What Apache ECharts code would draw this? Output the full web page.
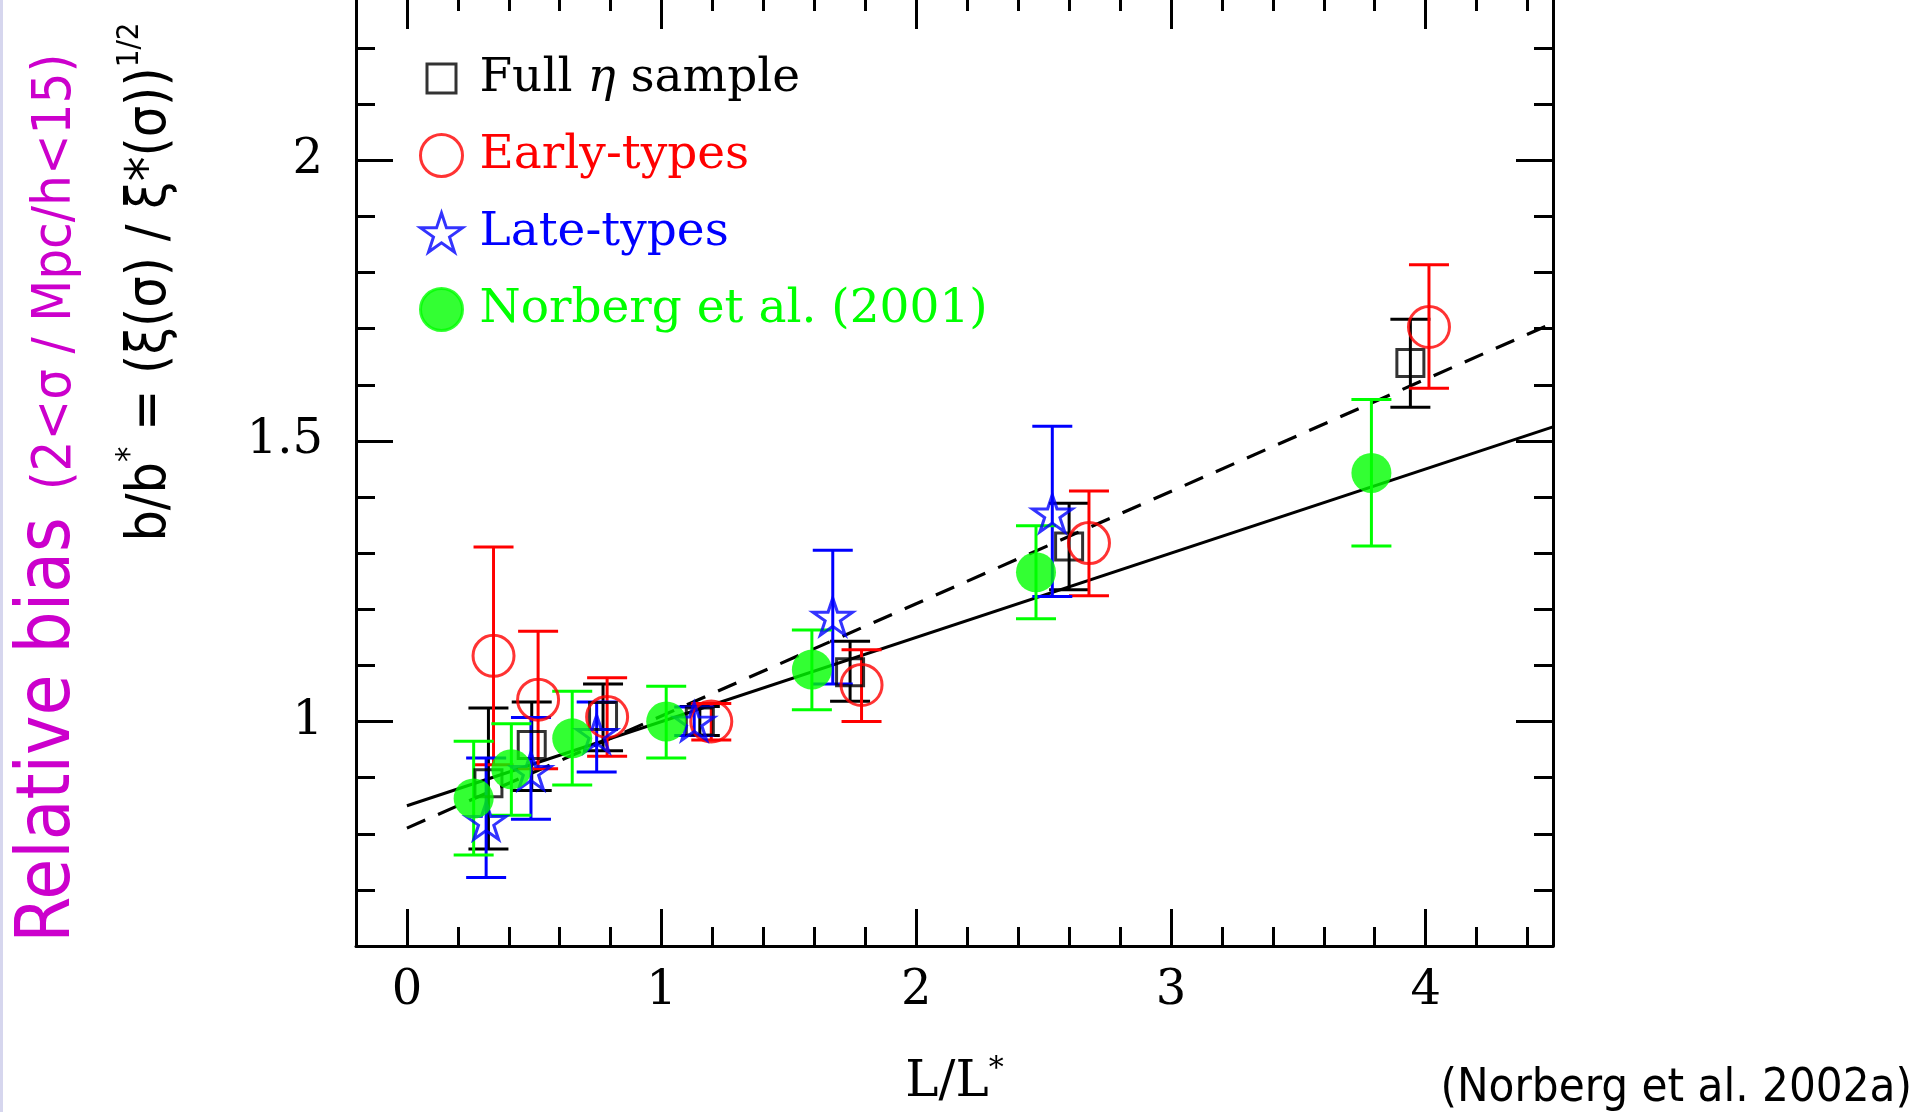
<!DOCTYPE html>
<html>
<head>
<meta charset="utf-8">
<script src="https://cdn.jsdelivr.net/npm/echarts@6/dist/echarts.min.js"></script>
<style>
html,body{margin:0;padding:0;background:#ffffff;}
#chart{width:1931px;height:1112px;}
</style>
</head>
<body>
<div id="chart"></div>
<script>
// ---------------- data ----------------
const xRange = [-0.2, 4.5];
const yRange = [0.6, 2.3];
const xMajorTicks = [0, 1, 2, 3, 4];
const xMinorTicks = [0.2, 0.4, 0.6, 0.8, 1.2, 1.4, 1.6, 1.8, 2.2, 2.4, 2.6, 2.8, 3.2, 3.4, 3.6, 3.8, 4.2, 4.4];
const yMajorTicks = [1, 1.5, 2];
const yMinorTicks = [0.7, 0.8, 0.9, 1.1, 1.2, 1.3, 1.4, 1.6, 1.7, 1.8, 1.9, 2.1, 2.2];

const seriesNames = ['Full η sample', 'Early-types', 'Late-types', 'Norberg et al. (2001)'];

// Full eta sample (black squares)
const fullX  = [0.32, 0.49, 0.77, 1.15, 1.74, 2.60, 3.94];
const fullY  = [0.89, 0.958, 1.01, 1.00, 1.088, 1.312, 1.639];
const fullLo = [0.773, 0.877, 0.948, 0.975, 1.036, 1.235, 1.560];
const fullHi = [1.024, 1.035, 1.067, 1.027, 1.143, 1.389, 1.717];

// Early-types (red open circles)
const earlyX  = [0.34, 0.515, 0.786, 1.195, 1.785, 2.678, 4.013];
const earlyY  = [1.117, 1.039, 1.008, 1.00, 1.065, 1.318, 1.703];
const earlyLo = [0.923, 0.916, 0.938, 0.967, 1.000, 1.224, 1.594];
const earlyHi = [1.311, 1.161, 1.078, 1.032, 1.128, 1.411, 1.814];

// Late-types (blue open stars)
const lateX  = [0.311, 0.487, 0.745, 1.128, 1.672, 2.534];
const lateY  = [0.823, 0.912, 0.978, 1.00, 1.187, 1.371];
const lateLo = [0.722, 0.826, 0.910, 0.975, 1.067, 1.223];
const lateHi = [0.935, 1.007, 1.035, 1.026, 1.305, 1.526];

// Norberg et al. (2001) (green filled circles)
const norbX  = [0.262, 0.41, 0.649, 1.018, 1.59, 2.47, 3.787];
const norbY  = [0.863, 0.915, 0.970, 1.00, 1.0925, 1.266, 1.443];
const norbLo = [0.762, 0.833, 0.887, 0.935, 1.021, 1.183, 1.313];
const norbHi = [0.965, 0.996, 1.054, 1.063, 1.163, 1.349, 1.574];

// fitted lines (end points)
const fitX = [0, 4.5];
const solidFitY = [0.85, 1.525];
const dashedFitY = [0.81, 1.71];

// ---------------- styling ----------------
const HERSHEY = "'DejaVu Serif', serif";
const SLIDE = "'DejaVu Sans Condensed', 'DejaVu Sans', sans-serif";
const BLACK = '#000000', RED = '#ff0000', BLUE = '#0000ff', GREEN = '#00ff00', MAGENTA = '#cc00cc';
const STAR = 'path://M50,0 L61.8,35.5 L100,35.5 L69.1,57.4 L80.9,93.1 L50,71 L19.1,93.1 L30.9,57.4 L0,35.5 L38.2,35.5 Z';
const LW = 3;

function pairs(xs, ys) { return xs.map((x, i) => [x, ys[i]]); }
function triples(xs, lo, hi) { return xs.map((x, i) => [x, lo[i], hi[i]]); }

function errSeries(name, xs, lo, hi, color) {
  return {
    type: 'custom', name: name, silent: true, animation: false,
    xAxisIndex: 0, yAxisIndex: 0,
    data: triples(xs, lo, hi),
    encode: { x: 0, y: [1, 2] },
    renderItem: function (params, api) {
      const x = api.value(0);
      const pLo = api.coord([x, api.value(1)]);
      const pHi = api.coord([x, api.value(2)]);
      const hw = 20;
      const st = { stroke: color, lineWidth: LW };
      return {
        type: 'group',
        children: [
          { type: 'line', shape: { x1: pLo[0], y1: pLo[1], x2: pHi[0], y2: pHi[1] }, style: st },
          { type: 'line', shape: { x1: pLo[0] - hw, y1: pLo[1], x2: pLo[0] + hw, y2: pLo[1] }, style: st },
          { type: 'line', shape: { x1: pHi[0] - hw, y1: pHi[1], x2: pHi[0] + hw, y2: pHi[1] }, style: st }
        ]
      };
    }
  };
}

function axisBase(position, range, ticks, len) {
  return {
    type: 'value', gridIndex: 0, position: position,
    min: range[0], max: range[1],
    axisLine: { show: false, onZero: false },
    axisTick: { show: true, inside: true, length: len, customValues: ticks, lineStyle: { color: BLACK, width: 3 } },
    axisLabel: { show: false },
    splitLine: { show: false },
    minorTick: { show: false },
    silent: true
  };
}
const frameLine = { show: true, onZero: false, lineStyle: { color: BLACK, width: 3 } };

const xAxes = [
  Object.assign(axisBase('bottom', xRange, xMinorTicks, 19), {
    axisLine: frameLine,
    axisLabel: { show: true, customValues: xMajorTicks, margin: 22, color: BLACK, fontFamily: HERSHEY, fontSize: 48 },
    name: 'L/L{s|*}', nameLocation: 'middle', nameGap: 108,
    nameTextStyle: { color: BLACK, fontFamily: HERSHEY, fontSize: 50, lineHeight: 58,
      rich: { s: { fontFamily: HERSHEY, fontSize: 30, lineHeight: 30, verticalAlign: 'top', color: BLACK } } }
  }),
  axisBase('bottom', xRange, xMajorTicks, 37),
  Object.assign(axisBase('top', xRange, xMinorTicks, 19), { axisLine: frameLine }),
  axisBase('top', xRange, xMajorTicks, 37)
];
const yAxes = [
  Object.assign(axisBase('left', yRange, yMinorTicks, 19), {
    axisLine: frameLine,
    axisLabel: { show: true, customValues: yMajorTicks, margin: 33, color: BLACK, fontFamily: HERSHEY, fontSize: 48 }
  }),
  axisBase('left', yRange, yMajorTicks, 37),
  Object.assign(axisBase('right', yRange, yMinorTicks, 19), { axisLine: frameLine }),
  axisBase('right', yRange, yMajorTicks, 37)
];

const option = {
  animation: false,
  backgroundColor: '#ffffff',
  grid: { left: 356, right: 378, top: -8, bottom: 166, containLabel: false, outerBoundsMode: 'none' },
  xAxis: xAxes,
  yAxis: yAxes,
  legend: {
    orient: 'vertical', left: 419, top: 55, padding: 0,
    itemWidth: 42, itemHeight: 42, itemGap: 30,
    selectedMode: false,
    itemStyle: { borderWidth: LW },
    textStyle: { fontFamily: HERSHEY, fontSize: 47, padding: [0, 0, 0, 12],
      rich: { i: { fontFamily: HERSHEY, fontSize: 47, fontStyle: 'italic' } } },
    formatter: function (name) { return name === seriesNames[0] ? 'Full {i|η} sample' : name; },
    data: [
      { name: seriesNames[0], icon: 'path://M0,0 M42,42 M6.5,6.5 L35.5,6.5 L35.5,35.5 L6.5,35.5 Z', textStyle: { color: BLACK } },
      { name: seriesNames[1], textStyle: { color: RED } },
      { name: seriesNames[2], textStyle: { color: BLUE } },
      { name: seriesNames[3], textStyle: { color: GREEN } }
    ]
  },
  series: [
    { type: 'line', name: 'fit-solid', data: pairs(fitX, solidFitY), showSymbol: false, symbol: 'none',
      lineStyle: { color: BLACK, width: 3 }, silent: true, z: 1 },
    { type: 'line', name: 'fit-dashed', data: pairs(fitX, dashedFitY), showSymbol: false, symbol: 'none',
      lineStyle: { color: BLACK, width: 3.2, type: [20, 14] }, silent: true, z: 1 },

    errSeries('full-err', fullX, fullLo, fullHi, BLACK),
    { type: 'scatter', name: seriesNames[0], data: pairs(fullX, fullY), symbol: 'rect', symbolSize: 27,
      itemStyle: { color: 'rgba(0,0,0,0)', borderColor: BLACK, borderWidth: LW }, emphasis: { disabled: true }, silent: true },

    errSeries('early-err', earlyX, earlyLo, earlyHi, RED),
    { type: 'scatter', name: seriesNames[1], data: pairs(earlyX, earlyY), symbol: 'circle', symbolSize: 41,
      itemStyle: { color: 'rgba(0,0,0,0)', borderColor: RED, borderWidth: LW }, emphasis: { disabled: true }, silent: true },

    errSeries('late-err', lateX, lateLo, lateHi, BLUE),
    { type: 'scatter', name: seriesNames[2], data: pairs(lateX, lateY), symbol: STAR, symbolSize: [40, 37],
      itemStyle: { color: 'rgba(0,0,0,0)', borderColor: BLUE, borderWidth: LW }, emphasis: { disabled: true }, silent: true },

    errSeries('norberg-err', norbX, norbLo, norbHi, GREEN),
    { type: 'scatter', name: seriesNames[3], data: pairs(norbX, norbY), symbol: 'circle', symbolSize: 40,
      itemStyle: { color: GREEN, borderColor: GREEN, borderWidth: 0 }, emphasis: { disabled: true }, silent: true }
  ],
  graphic: [
    { type: 'rect', x: 0, y: 0, shape: { x: 0, y: 0, width: 3, height: 1112 }, style: { fill: '#d6d6ee' }, silent: true },
    { type: 'text', x: 50, y: 730, rotation: Math.PI / 2, silent: true,
      style: { text: 'Relative bias', fill: MAGENTA, fontFamily: SLIDE, fontSize: 74,
        align: 'center', verticalAlign: 'middle', textAlign: 'center', textVerticalAlign: 'middle' } },
    { type: 'text', x: 56, y: 272, rotation: Math.PI / 2, silent: true,
      style: { text: '(2<σ / Mpc/h<15)', fill: MAGENTA, fontFamily: SLIDE, fontSize: 54,
        align: 'center', verticalAlign: 'middle', textAlign: 'center', textVerticalAlign: 'middle' } },
    { type: 'text', x: 146, y: 282, rotation: Math.PI / 2, silent: true,
      style: { text: '{m|b/b}{s|*}{m| = (ξ(σ) / ξ*(σ))}{t|1/2}', fill: BLACK,
        align: 'center', verticalAlign: 'middle', textAlign: 'center', textVerticalAlign: 'middle',
        rich: {
          m: { fontFamily: SLIDE, fontSize: 55, lineHeight: 64, verticalAlign: 'bottom', fill: BLACK },
          s: { fontFamily: SLIDE, fontSize: 34, lineHeight: 34, verticalAlign: 'top', fill: BLACK },
          t: { fontFamily: SLIDE, fontSize: 31, lineHeight: 31, verticalAlign: 'top', fill: BLACK }
        } } },
    { type: 'text', x: 1912, y: 1089, silent: true,
      style: { text: '(Norberg et al. 2002a)', fill: BLACK, fontFamily: SLIDE, fontSize: 47,
        align: 'right', verticalAlign: 'middle', textAlign: 'right', textVerticalAlign: 'middle' } }
  ]
};

const chart = echarts.init(document.getElementById('chart'), null, { renderer: 'canvas', width: 1931, height: 1112 });
chart.setOption(option);
</script>
</body>
</html>
